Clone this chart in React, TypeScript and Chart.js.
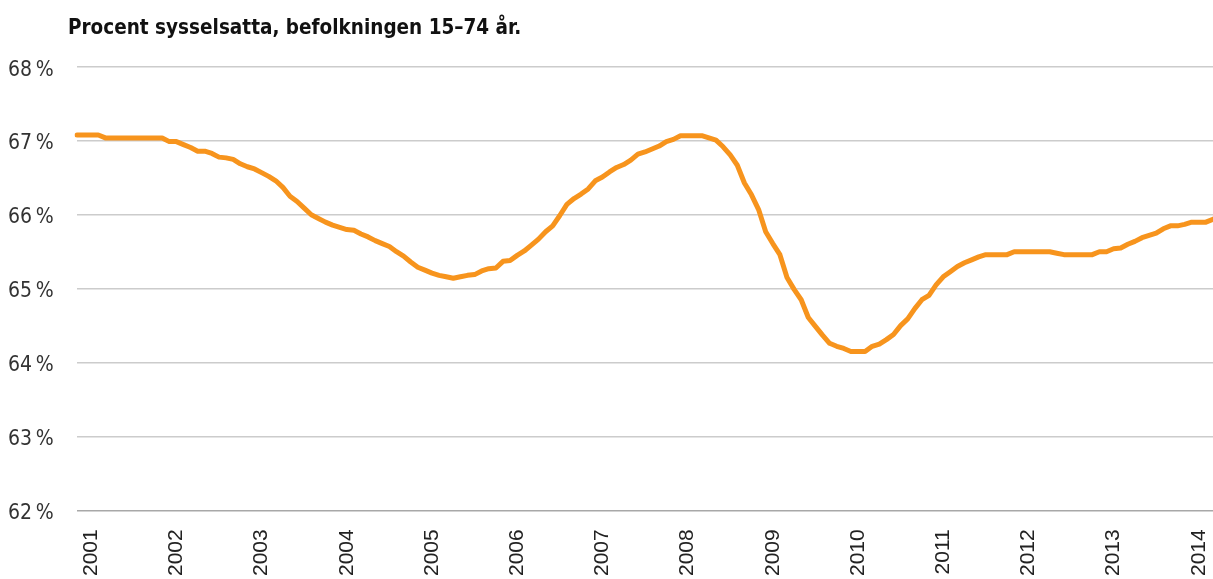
import React, { useEffect, useRef } from "react";
import { Chart, registerables } from "chart.js";

Chart.register(...registerables);

const TITLE = "Procent sysselsatta, befolkningen 15–74 år.";

// Monthly categories, Nov 2000 – Mar 2014
const MONTHS: string[] = (() => {
  const out: string[] = [];
  let y = 2000;
  let m = 11;
  for (let i = 0; i < 161; i++) {
    out.push(`${y}-${String(m).padStart(2, "0")}`);
    m++;
    if (m > 12) { m = 1; y++; }
  }
  return out;
})();

const EMPLOYMENT_RATE: number[] = [
  67.08, 67.08, 67.08, 67.08, 67.04, 67.04, 67.04, 67.04, 67.04, 67.04,
  67.04, 67.04, 67.04, 66.99, 66.99, 66.95, 66.91, 66.86, 66.86, 66.83,
  66.78, 66.77, 66.75, 66.69, 66.65, 66.62, 66.57, 66.52, 66.46, 66.37,
  66.25, 66.18, 66.09, 66.0, 65.95, 65.9, 65.86, 65.83, 65.8, 65.79,
  65.74, 65.7, 65.65, 65.61, 65.57, 65.5, 65.44, 65.36, 65.29, 65.25,
  65.21, 65.18, 65.16, 65.14, 65.16, 65.18, 65.19, 65.24, 65.27, 65.28,
  65.37, 65.38, 65.45, 65.51, 65.59, 65.67, 65.77, 65.85, 65.99, 66.14,
  66.22, 66.28, 66.35, 66.46, 66.51, 66.58, 66.64, 66.68, 66.74, 66.82,
  66.85, 66.89, 66.93, 66.99, 67.02, 67.07, 67.07, 67.07, 67.07, 67.04,
  67.01, 66.92, 66.81, 66.67, 66.43, 66.27, 66.07, 65.77, 65.61, 65.46,
  65.15, 64.99, 64.85, 64.61, 64.49, 64.37, 64.26, 64.22, 64.19, 64.15,
  64.15, 64.15, 64.22, 64.25, 64.31, 64.38, 64.5, 64.59, 64.73, 64.85,
  64.91, 65.05, 65.16, 65.23, 65.3, 65.35, 65.39, 65.43, 65.46, 65.46,
  65.46, 65.46, 65.5, 65.5, 65.5, 65.5, 65.5, 65.5, 65.48, 65.46,
  65.46, 65.46, 65.46, 65.46, 65.5, 65.5, 65.54, 65.55, 65.6, 65.64,
  65.69, 65.72, 65.75, 65.81, 65.85, 65.85, 65.87, 65.9, 65.9, 65.9,
  65.94,
];

const Y_MIN = 62;
const Y_MAX = 68;

const titlePlugin = {
  id: "customTitle",
  afterDraw(chart: any) {
    const ctx = chart.ctx;
    ctx.save();
    ctx.font = 'bold 20.5px "Liberation Sans Narrow", "DejaVu Sans Condensed", sans-serif';
    ctx.fillStyle = "#111111";
    ctx.textAlign = "left";
    ctx.textBaseline = "alphabetic";
    ctx.fillText(TITLE, 68, 34);
    ctx.restore();
  },
};

export default function App() {
  const ref = useRef<HTMLCanvasElement | null>(null);
  useEffect(() => {
    if (!ref.current) return;
    const chart = new Chart(ref.current, {
      type: "line",
      data: {
        labels: MONTHS,
        datasets: [
          {
            data: EMPLOYMENT_RATE,
            borderColor: "#F7941D",
            borderWidth: 5,
            pointRadius: 0,
            tension: 0,
            fill: false,
            borderJoinStyle: "round",
            borderCapStyle: "round",
          },
        ],
      },
      options: {
        animation: false,
        responsive: true,
        maintainAspectRatio: false,
        layout: { padding: { top: 67, left: 8, right: 0, bottom: 0 } },
        plugins: {
          legend: { display: false },
          tooltip: { enabled: false },
          title: { display: false },
        },
        scales: {
          x: {
            offset: false,
            afterFit: (scale: any) => {
              scale.paddingRight = 0;
              scale.paddingLeft = 0;
            },
            grid: { display: false, drawTicks: false },
            border: { display: false },
            ticks: {
              autoSkip: false,
              minRotation: 90,
              maxRotation: 90,
              padding: 19,
              color: "#222222",
              font: { family: '"Liberation Sans", Arial, sans-serif', size: 21 },
              callback: function (_v: any, i: number) {
                const s = MONTHS[i];
                return s.endsWith("-01") ? s.slice(0, 4) : null;
              },
            },
          },
          y: {
            min: Y_MIN,
            max: Y_MAX,
            afterFit: (scale: any) => {
              scale.width = 69;
            },
            grid: {
              drawTicks: false,
              lineWidth: 1.5,
              color: (c: any) => (c.tick && c.tick.value === Y_MIN ? "#a8a8a8" : "#cccccc"),
            },
            border: { display: false },
            ticks: {
              stepSize: 1,
              crossAlign: "far",
              color: "#333333",
              font: {
                family: '"Liberation Sans Narrow", "DejaVu Sans Condensed", sans-serif',
                size: 21,
                lineHeight: 0.3,
              },
              callback: (v: any) => ["", `${v}\u2009%`],
            },
          },
        },
      },
      plugins: [titlePlugin],
    });
    return () => chart.destroy();
  }, []);

  return (
    <div style={{ position: "absolute", left: 0, top: 0, width: 1213, height: 595, background: "#ffffff" }}>
      <canvas ref={ref} />
    </div>
  );
}
